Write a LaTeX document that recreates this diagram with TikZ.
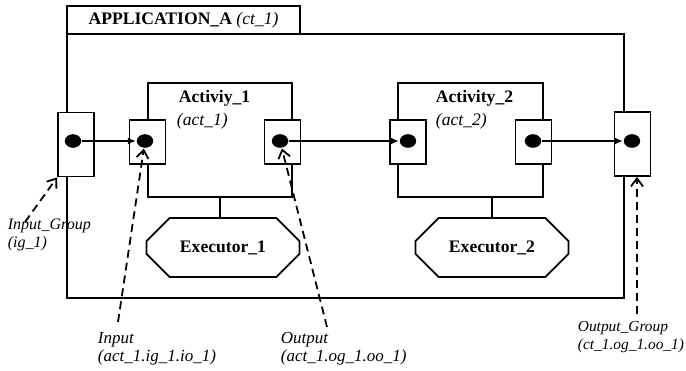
\documentclass[tikz,border=0pt]{standalone}
\usepackage{fontspec}
\setmainfont{Liberation Serif}
\usetikzlibrary{positioning}
\usetikzlibrary{shapes}
\usetikzlibrary{arrows.meta}

\begin{document}
\begin{tikzpicture}[x=0.5pt, y=-0.5pt, line width=0.9pt,
    every node/.style={font=\fontsize{8.8}{9}\selectfont},
    port/.style={rectangle, draw, fill=white, inner sep=0pt, minimum width=18pt, minimum height=22pt},
    grp/.style={port, minimum height=32pt},
    dot/.style={ellipse, fill, inner sep=0pt, minimum width=8.2pt, minimum height=6.8pt},
    exe/.style={chamfered rectangle, chamfered rectangle xsep=8pt, chamfered rectangle ysep=8pt, draw, inner sep=0pt, minimum width=76.5pt, minimum height=29.5pt, font=\fontsize{8.8}{9}\selectfont\bfseries},
    ttl/.style={anchor=west, inner sep=0pt, font=\fontsize{8.8}{9}\selectfont\bfseries},
    sub/.style={anchor=west, inner sep=0pt, font=\fontsize{8.8}{9}\selectfont\itshape},
    lab/.style={align=left, anchor=north west, inner sep=0pt, font=\fontsize{8}{9}\selectfont\itshape},
    flow/.style={-{Latex[length=4pt, width=3.5pt]}},
    ref/.style={dash pattern=on 4pt off 2.5pt, -{Straight Barb[length=4pt, width=6pt]}}]
    \useasboundingbox (0,0) rectangle (686,370);

    % application frame and its tab
    \draw (67,34) rectangle (624,298);
    \node[draw, inner sep=0pt, minimum width=116.5pt, minimum height=14pt] (tab) at (183.5,20) {\textbf{APPLICATION\_A} \textit{(ct\_1)}};

    % activities
    \node[draw, minimum width=72pt, minimum height=57pt] (act1) at (220,140) {};
    \node[draw, minimum width=72.5pt, minimum height=57pt] (act2) at (470.5,140) {};
    \node[ttl] (t1) at (178,98) {Activiy\_1};
    \node[sub] (s1) at (176,121) {(act\_1)};
    \node[ttl] (t2) at (435,98) {Activity\_2};
    \node[sub] (s2) at (435,121) {(act\_2)};

    % ports
    \node[grp] (ig) at (76,144.5) {};
    \node[port] (i1) at (147.5,142) {};
    \node[port] (o1) at (282.5,142) {};
    \node[port] (i2) at (408,142) {};
    \node[port] (o2) at (533.5,142) {};
    \node[grp] (og) at (632.5,144) {};

    \node[dot] (igd) at (73,141) {};
    \node[dot] (i1d) at (145,141) {};
    \node[dot] (o1d) at (280,141) {};
    \node[dot] (i2d) at (408,141) {};
    \node[dot] (o2d) at (533,141) {};
    \node[dot] (ogd) at (632,141) {};

    \draw[flow] (igd) -- (i1d);
    \draw[flow] (o1d) -- (i2d);
    \draw[flow] (o2d) -- (ogd);

    % executors
    \node[exe] (ex1) at (223,247.5) {Executor\_1};
    \node[exe] (ex2) at (492,247.5) {Executor\_2};
    \draw (act1.south) -- (act1.south |- ex1.north);
    \draw (ex2.north) -- (ex2.north |- act2.south);

    % labels
    \node[lab] (iglab) at (7,218) {Input\_Group\\(ig\_1)};
    \node[lab, font=\fontsize{8.5}{9}\selectfont\itshape] (inlab) at (97,331) {Input\\(act\_1.ig\_1.io\_1)};
    \node[lab, font=\fontsize{8.5}{9}\selectfont\itshape] (outlab) at (280,331) {Output\\(act\_1.og\_1.oo\_1)};
    \node[lab, font=\fontsize{7.7}{9}\selectfont\itshape] (oglab) at (577,320) {Output\_Group\\(ct\_1.og\_1.oo\_1)};

    \coordinate (igtail) at (25,222);
    \coordinate (intail) at (118,322);
    \coordinate (outtail) at (327,327);
    \coordinate (ogtail) at (637,314);
    \draw[ref] (igtail) -- (ig.south west);
    \draw[ref] (intail) -- (i1d);
    \draw[ref] (outtail) -- (o1d);
    \draw[ref] (ogtail) -- (ogtail |- og.south);
\end{tikzpicture}
\end{document}
